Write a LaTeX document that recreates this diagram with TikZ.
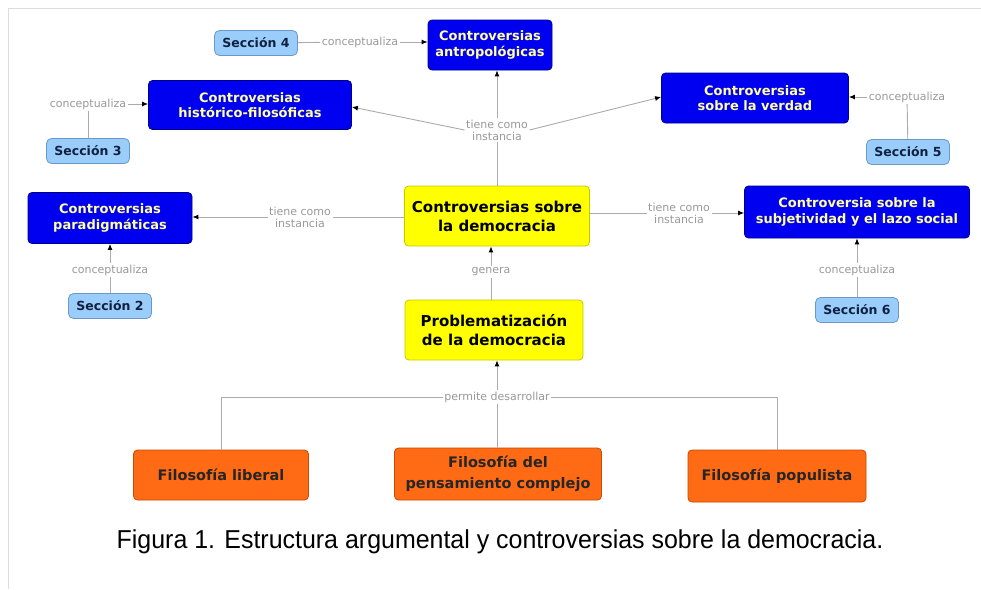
\documentclass[tikz,border=0pt]{standalone}
\usepackage{fontspec}
\setmainfont{Liberation Sans}
\newfontfamily\boxfont{DejaVu Sans}
\usetikzlibrary{arrows.meta,calc}
\definecolor{bfill}{HTML}{0000F0}
\definecolor{bdraw}{HTML}{00008A}
\definecolor{btext}{HTML}{FFFFA0}
\definecolor{yfill}{HTML}{FFFF00}
\definecolor{ydraw}{HTML}{C8C800}
\definecolor{ofill}{HTML}{FF6A14}
\definecolor{odraw}{HTML}{C84A00}
\definecolor{sfill}{HTML}{9ACDFA}
\definecolor{sdraw}{HTML}{6A98C8}
\definecolor{stext}{HTML}{102040}
\definecolor{lgray}{HTML}{ABABAB}
\definecolor{ltext}{HTML}{999999}
\definecolor{frame}{HTML}{DDDDDD}
\tikzset{
  bluebox/.style={draw=bdraw, line width=0.8pt, fill=bfill, rounded corners=4pt, inner sep=0pt, align=center, text=btext, font=\boxfont\bfseries\fontsize{13}{15.5}\selectfont},
  yelbox/.style={draw=ydraw, line width=0.8pt, fill=yfill, rounded corners=4pt, inner sep=0pt, align=center, text=black, font=\boxfont\bfseries\fontsize{15}{19}\selectfont},
  orbox/.style={draw=odraw, line width=0.8pt, fill=ofill, rounded corners=4pt, inner sep=0pt, align=center, text=black!85, font=\boxfont\bfseries\fontsize{14.5}{21}\selectfont},
  secbox/.style={draw=sdraw, line width=0.8pt, fill=sfill, rounded corners=5pt, inner sep=0pt, minimum width=83pt, minimum height=25pt, align=center, text=stext, font=\boxfont\bfseries\fontsize{12.5}{14}\selectfont},
  lbl/.style={inner sep=1.5pt, align=center, text=ltext, font=\boxfont\fontsize{11}{12}\selectfont},
  conn/.style={draw=lgray, line width=0.9pt},
  arr/.style={conn, -{Latex[length=6pt,width=5pt,fill=black,color=black]}},
}
\begin{document}
\begin{tikzpicture}[x=1pt,y=-1pt]
\useasboundingbox (0,0) rectangle (981,589);
\fill[white] (0,0) rectangle (981,589);
\draw[frame, line width=1pt] (8,589) -- (8,8) -- (981,8);

% main concepts
\node[bluebox, minimum width=124pt, minimum height=50pt] (antrop) at (490,45) {Controversias\\antropológicas};
\node[bluebox, minimum width=203pt, minimum height=49pt] (hist) at (250,105) {Controversias\\histórico-filosóficas};
\node[bluebox, minimum width=187pt, minimum height=50pt] (verdad) at (755,98) {Controversias\\sobre la verdad};
\node[bluebox, minimum width=164pt, minimum height=51pt] (parad) at (110,218) {Controversias\\paradigmáticas};
\node[bluebox, minimum width=225pt, minimum height=52pt] (subj) at (857,212) {Controversia sobre la\\subjetividad y el lazo social};
\node[yelbox, minimum width=185pt, minimum height=60pt] (demo) at (497,216) {Controversias sobre\\la democracia};
\node[yelbox, minimum width=178pt, minimum height=60pt] (prob) at (494,330) {Problematización\\de la democracia};
\node[orbox, minimum width=175pt, minimum height=50pt] (lib) at (221,475) {Filosofía liberal};
\node[orbox, minimum width=207pt, minimum height=52pt] (comp) at (498,474) {Filosofía del\\pensamiento complejo};
\node[orbox, minimum width=178pt, minimum height=52pt] (pop) at (777,476) {Filosofía populista};

% sections
\node[secbox] (s4) at (256,43) {Sección 4};
\node[secbox] (s3) at (88,151) {Sección 3};
\node[secbox] (s5) at (908,152) {Sección 5};
\node[secbox] (s2) at (110,306) {Sección 2};
\node[secbox] (s6) at (857,310) {Sección 6};

% labels
\node[lbl] (l4) at (360,42) {conceptualiza};
\node[lbl] (l3) at (88,104) {conceptualiza};
\node[lbl] (l5) at (907,97) {conceptualiza};
\node[lbl] (l2) at (110,270) {conceptualiza};
\node[lbl] (l6) at (857,270) {conceptualiza};
\node[lbl] (ttop) at (497,130) {tiene como\\instancia};
\node[lbl] (tleft) at (300,217) {tiene como\\instancia};
\node[lbl] (tright) at (679,213) {tiene como\\instancia};
\node[lbl] (gen) at (491,272) {genera};
\node[lbl] (perm) at (497,397) {permite desarrollar};

% connectors: sections
\draw[conn] (s4) -- (l4);
\draw[arr] (l4) -- (l4 -| antrop.west);
\draw[conn] (s3) -- (l3);
\draw[arr] (l3) -- (l3 -| hist.west);
\draw[conn] (s5) -- (l5);
\draw[arr] (l5) -- (l5 -| verdad.east);
\draw[conn] (s2) -- (l2);
\draw[arr] (l2) -- (parad);
\draw[conn] (s6) -- (l6);
\draw[arr] (l6) -- (subj);

% connectors: instances
\draw[conn] (demo.north -| ttop) -- (ttop);
\draw[arr] (ttop) -- (ttop |- antrop.south);
\draw[arr] (ttop.west) -- ($(hist.east)+(0,2)$);
\draw[arr] (ttop.east) -- ($(verdad.west)+(0,-1)$);
\draw[conn] (demo.west |- tleft) -- (tleft);
\draw[arr] (tleft) -- (tleft -| parad.east);
\draw[conn] (demo.east |- tright) -- (tright);
\draw[arr] (tright) -- (tright -| subj.west);

% generation
\draw[conn] (prob.north -| gen) -- (gen);
\draw[arr] (gen) -- (gen |- demo.south);
\draw[arr] (perm) -- (perm |- prob.south);
\draw[conn] (comp.north -| perm) -- (perm);
\draw[conn] (lib.north) |- (perm.west);
\draw[conn] (pop.north) |- (perm.east);

% caption
\node[font=\fontsize{24}{28}\selectfont, inner sep=0pt] (cap) at (500,542) {\scalebox{1.04}[1.08]{Figura 1. Estructura argumental y controversias sobre la democracia.}};
\end{tikzpicture}
\end{document}
